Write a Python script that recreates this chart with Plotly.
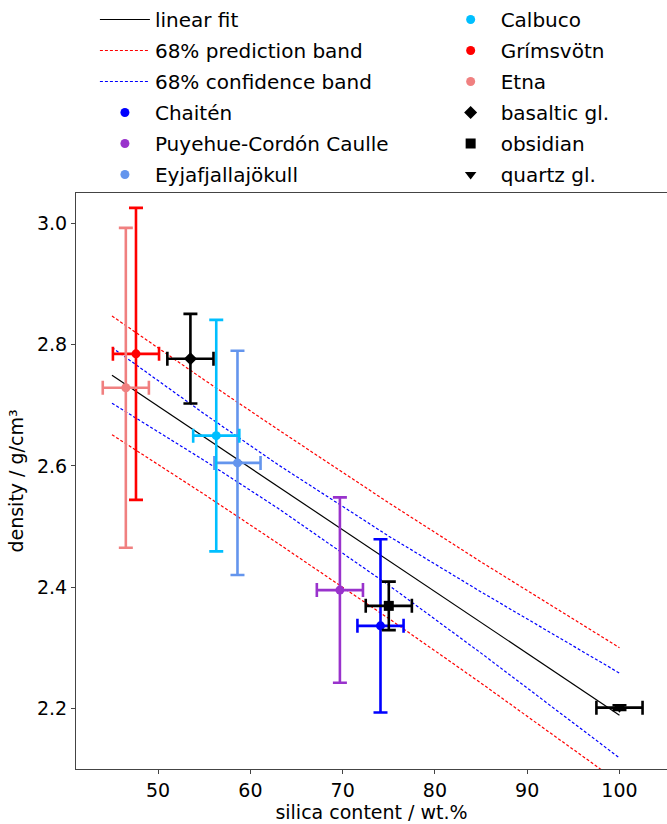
import plotly.graph_objects as go

# ---- data ----
names = ["Chaitén", "Puyehue-Cordón Caulle", "Eyjafjallajökull", "Calbuco", "Grímsvötn", "Etna",
         "basaltic gl.", "obsidian", "quartz gl."]
silica = [74.1, 69.7, 58.6, 56.3, 47.6, 46.5, 53.5, 75.0, 100.0]
silica_err = [2.5, 2.5, 2.5, 2.5, 2.5, 2.5, 2.5, 2.5, 2.5]
density = [2.336, 2.395, 2.605, 2.650, 2.785, 2.729, 2.777, 2.369, 2.201]
density_err = [0.143, 0.153, 0.185, 0.191, 0.241, 0.264, 0.074, 0.040, 0.004]
colors = ["#0000FF", "#9932CC", "#6495ED", "#00BFFF", "#FF0000", "#F08080", "#000000", "#000000", "#000000"]
symbols = ["circle", "circle", "circle", "circle", "circle", "circle", "diamond", "square", "triangle-down"]

band_x = [45, 55, 63, 75, 85, 100]
fit_y = [2.7495, 2.6475, 2.5659, 2.4435, 2.3415, 2.1885]
pred_upper = [2.8475, 2.742, 2.660, 2.539, 2.4415, 2.300]
pred_lower = [2.6515, 2.553, 2.472, 2.348, 2.2415, 2.077]
conf_upper = [2.7955, 2.686, 2.602, 2.484, 2.392, 2.258]
conf_lower = [2.7035, 2.609, 2.530, 2.403, 2.291, 2.118]

FONT = "DejaVu Sans"
fig = go.Figure()

# fit and bands
fig.add_trace(go.Scatter(x=band_x, y=fit_y, mode="lines", line=dict(color="black", width=1.2),
                         name="linear fit", legend="legend", legendgroup="g0"))
fig.add_trace(go.Scatter(x=band_x, y=pred_upper, mode="lines", line=dict(color="red", width=1.2, dash="3px,2px"),
                         name="68% prediction band", legend="legend", legendgroup="g1"))
fig.add_trace(go.Scatter(x=band_x, y=pred_lower, mode="lines", line=dict(color="red", width=1.2, dash="3px,2px"),
                         showlegend=False, legendgroup="g1"))
fig.add_trace(go.Scatter(x=band_x, y=conf_upper, mode="lines", line=dict(color="blue", width=1.2, dash="3px,2px"),
                         name="68% confidence band", legend="legend", legendgroup="g2"))
fig.add_trace(go.Scatter(x=band_x, y=conf_lower, mode="lines", line=dict(color="blue", width=1.2, dash="3px,2px"),
                         showlegend=False, legendgroup="g2"))

# data points with error bars
for i, n in enumerate(names):
    fig.add_trace(go.Scatter(
        x=[silica[i]], y=[density[i]], mode="markers",
        marker=dict(color=colors[i], symbol=symbols[i], size=10 if symbols[i] != "circle" else 9),
        error_x=dict(type="data", array=[silica_err[i]], color=colors[i], thickness=2.6, width=7),
        error_y=dict(type="data", array=[density_err[i]], color=colors[i], thickness=2.6, width=7),
        showlegend=False, legendgroup="p%d" % i))

# legend entries
order1 = [0, 1, 2]
for i in range(len(names)):
    leg = "legend" if i in order1 else "legend2"
    fig.add_trace(go.Scatter(
        x=[None], y=[None], mode="markers", name=names[i],
        marker=dict(color=colors[i], symbol=symbols[i], size=9 if symbols[i] == "circle" else 10),
        legend=leg, legendgroup="p%d" % i))

axis_common = dict(showline=True, linecolor="#444", linewidth=1, ticks="outside", ticklen=4,
                   tickcolor="#444", showgrid=False, zeroline=False,
                   tickfont=dict(family=FONT, size=19, color="black"))

fig.update_layout(
    width=667, height=824, autosize=False,
    margin=dict(l=76, r=0, t=191, b=55),
    plot_bgcolor="white", paper_bgcolor="white",
    font=dict(family=FONT, size=20, color="black"),
    xaxis=dict(range=[41.1, 105.15], tickvals=[50, 60, 70, 80, 90, 100], mirror=True,
               title=dict(text="silica content / wt.%", font=dict(family=FONT, size=19), standoff=0),
               **axis_common),
    yaxis=dict(range=[2.0997, 3.0505], tickvals=[2.2, 2.4, 2.6, 2.8, 3.0], tickformat=".1f",
               title=dict(text="density / g/cm³", font=dict(family=FONT, size=19), standoff=8),
               **axis_common),
    legend=dict(x=0.032, y=1.336, xanchor="left", yanchor="top", bgcolor="rgba(0,0,0,0)",
                itemwidth=50, tracegroupgap=2, font=dict(family=FONT, size=20), itemclick=False),
    legend2=dict(x=0.617, y=1.336, xanchor="left", yanchor="top", bgcolor="rgba(0,0,0,0)",
                 itemwidth=50, tracegroupgap=2, font=dict(family=FONT, size=20), itemclick=False),
    showlegend=True,
)

fig.write_html("out.html")
